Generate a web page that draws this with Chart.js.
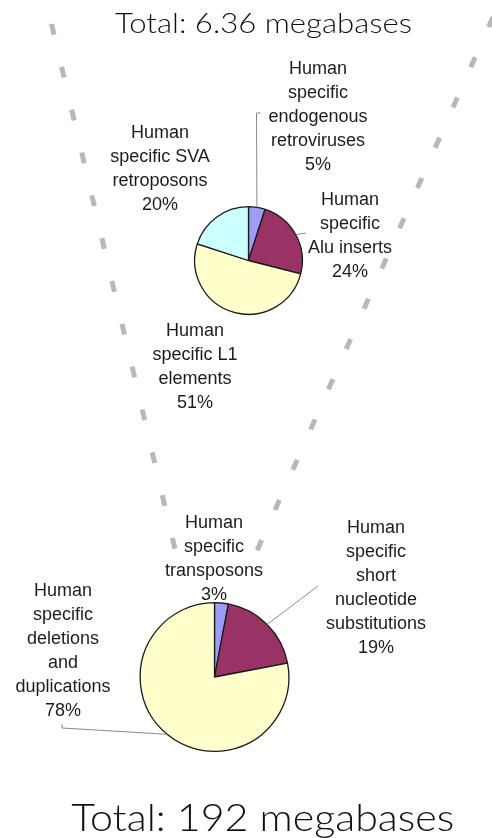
<!DOCTYPE html>
<html>
<head>
<meta charset="utf-8">
<script src="https://cdn.jsdelivr.net/npm/chart.js@4.4.1/dist/chart.umd.min.js"></script>
<style>
  html, body { margin: 0; padding: 0; background: #fff; }
  #page { position: relative; width: 492px; height: 838px; overflow: hidden; }
  #page canvas { position: absolute; left: 0; top: 0; }
  .lbl {
    position: absolute; z-index: 5;
    font-family: "Liberation Sans", Arial, sans-serif;
    font-size: 18px; line-height: 24px; color: #1c1c1c;
    text-align: center; white-space: nowrap;
    transform: translateX(-50%);
  }
  .ttl {
    position: absolute; z-index: 5; left: 0; width: 492px;
    font-family: Lato, "DejaVu Sans", sans-serif; font-weight: 300;
    color: #111; text-align: center; white-space: nowrap;
  }
</style>
</head>
<body>
<div id="page">
  <canvas id="bg" width="492" height="838"></canvas>
  <canvas id="topPie" width="492" height="838"></canvas>
  <canvas id="bottomPie" width="492" height="838"></canvas>
</div>
<script>
// data
const topCategories = [
  "Human\nspecific\nendogenous\nretroviruses",
  "Human\nspecific\nAlu inserts",
  "Human\nspecific L1\nelements",
  "Human\nspecific SVA\nretroposons"
];
const topValues = [5, 24, 51, 20];
const bottomCategories = [
  "Human\nspecific\ntransposons",
  "Human\nspecific\nshort\nnucleotide\nsubstitutions",
  "Human\nspecific\ndeletions\nand\nduplications"
];
const bottomValues = [3, 19, 78];
const totals = ["Total: 6.36 megabases", "Total: 192 megabases"];

// styles / layout
const topColors = ["#9d9cf7", "#993366", "#ffffcc", "#ccffff"];
const bottomColors = ["#9d9cf7", "#993366", "#ffffcc"];

const topLayout = {
  cx: 248.5, cy: 260.5, r: 53.5,
  labels: [[318, 68], [350, 199], [195, 330], [160, 132]],
  leaders: [
    { index: 0, path: [[256.5, 113], [260.5, 113]] },
    { index: 1, path: [[306, 233]] }
  ]
};
const bottomLayout = {
  cx: 214.5, cy: 677, r: 74,
  labels: [[214, 522], [376, 527], [63, 590]],
  leaders: [
    { index: 1, path: [[318, 586]] },
    { index: 2, path: [[62, 728], [62, 724]] }
  ]
};
// funnel guide lines (page pixels)
const leftGuide = [{ x: 51.5, y: 24 }, { x: 178, y: 562 }];
const rightGuide = [{ x: 493, y: 17 }, { x: 252, y: 562 }];

const leaderPlugin = {
  id: 'leaders',
  afterDatasetsDraw(chart, args, opts) {
    const ctx = chart.ctx;
    const arcs = chart.getDatasetMeta(0).data;
    ctx.save();
    ctx.strokeStyle = '#8a8a8a';
    ctx.lineWidth = 1;
    (opts.lines || []).forEach(l => {
      const a = arcs[l.index];
      const mid = (a.startAngle + a.endAngle) / 2;
      ctx.beginPath();
      ctx.moveTo(a.x + Math.cos(mid) * a.outerRadius, a.y + Math.sin(mid) * a.outerRadius);
      l.path.forEach(p => ctx.lineTo(p[0], p[1]));
      ctx.stroke();
    });
    ctx.restore();
  }
};

new Chart(document.getElementById('bg'), {
  type: 'scatter',
  data: {
    datasets: [leftGuide, rightGuide].map(pts => ({
      data: pts,
      showLine: true,
      borderColor: '#b8b8b8',
      borderWidth: 5,
      borderDash: [11, 33],
      borderCapStyle: 'butt',
      pointRadius: 0
    }))
  },
  options: {
    responsive: false,
    animation: false,
    layout: { padding: 0 },
    scales: {
      x: { type: 'linear', min: 0, max: 492, display: false },
      y: { type: 'linear', min: 0, max: 838, reverse: true, display: false }
    },
    plugins: { legend: { display: false }, tooltip: { enabled: false } }
  }
});

function makePie(id, categories, values, colors, lay) {
  const R = lay.r + 1;
  new Chart(document.getElementById(id), {
    type: 'pie',
    data: {
      labels: categories.map(c => c.replace(/\n/g, ' ')),
      datasets: [{
        data: values,
        backgroundColor: colors,
        borderColor: '#1a1a1a',
        borderWidth: 1.3
      }]
    },
    options: {
      responsive: false,
      animation: false,
      layout: {
        padding: {
          left: lay.cx - R, right: 492 - lay.cx - R,
          top: lay.cy - R, bottom: 838 - lay.cy - R
        }
      },
      plugins: {
        legend: { display: false },
        tooltip: { enabled: false },
        leaders: { lines: lay.leaders }
      }
    },
    plugins: [leaderPlugin]
  });

  const page = document.getElementById('page');
  categories.forEach((c, i) => {
    const d = document.createElement('div');
    d.className = 'lbl';
    d.style.left = lay.labels[i][0] + 'px';
    d.style.top = (lay.labels[i][1] - 12) + 'px';
    d.innerHTML = c.split('\n').concat(values[i] + '%').join('<br>');
    page.appendChild(d);
  });
}

makePie('topPie', topCategories, topValues, topColors, topLayout);
makePie('bottomPie', bottomCategories, bottomValues, bottomColors, bottomLayout);

// totals
const titleSpecs = [
  { size: 28, top: 8, width: 297, cx: 263 },
  { size: 36.5, top: 798.5, width: 383, cx: 263 }
];
totals.forEach((t, i) => {
  const s = titleSpecs[i];
  const d = document.createElement('div');
  d.className = 'ttl';
  d.style.fontSize = s.size + 'px';
  d.style.lineHeight = s.size + 'px';
  d.style.top = s.top + 'px';
  const span = document.createElement('span');
  span.textContent = t;
  span.style.display = 'inline-block';
  d.appendChild(span);
  document.getElementById('page').appendChild(d);
  const w = span.getBoundingClientRect().width;
  span.style.transform = 'translateX(' + (s.cx - 246) + 'px) scaleX(' + (s.width / w).toFixed(3) + ')';
});
</script>
</body>
</html>
